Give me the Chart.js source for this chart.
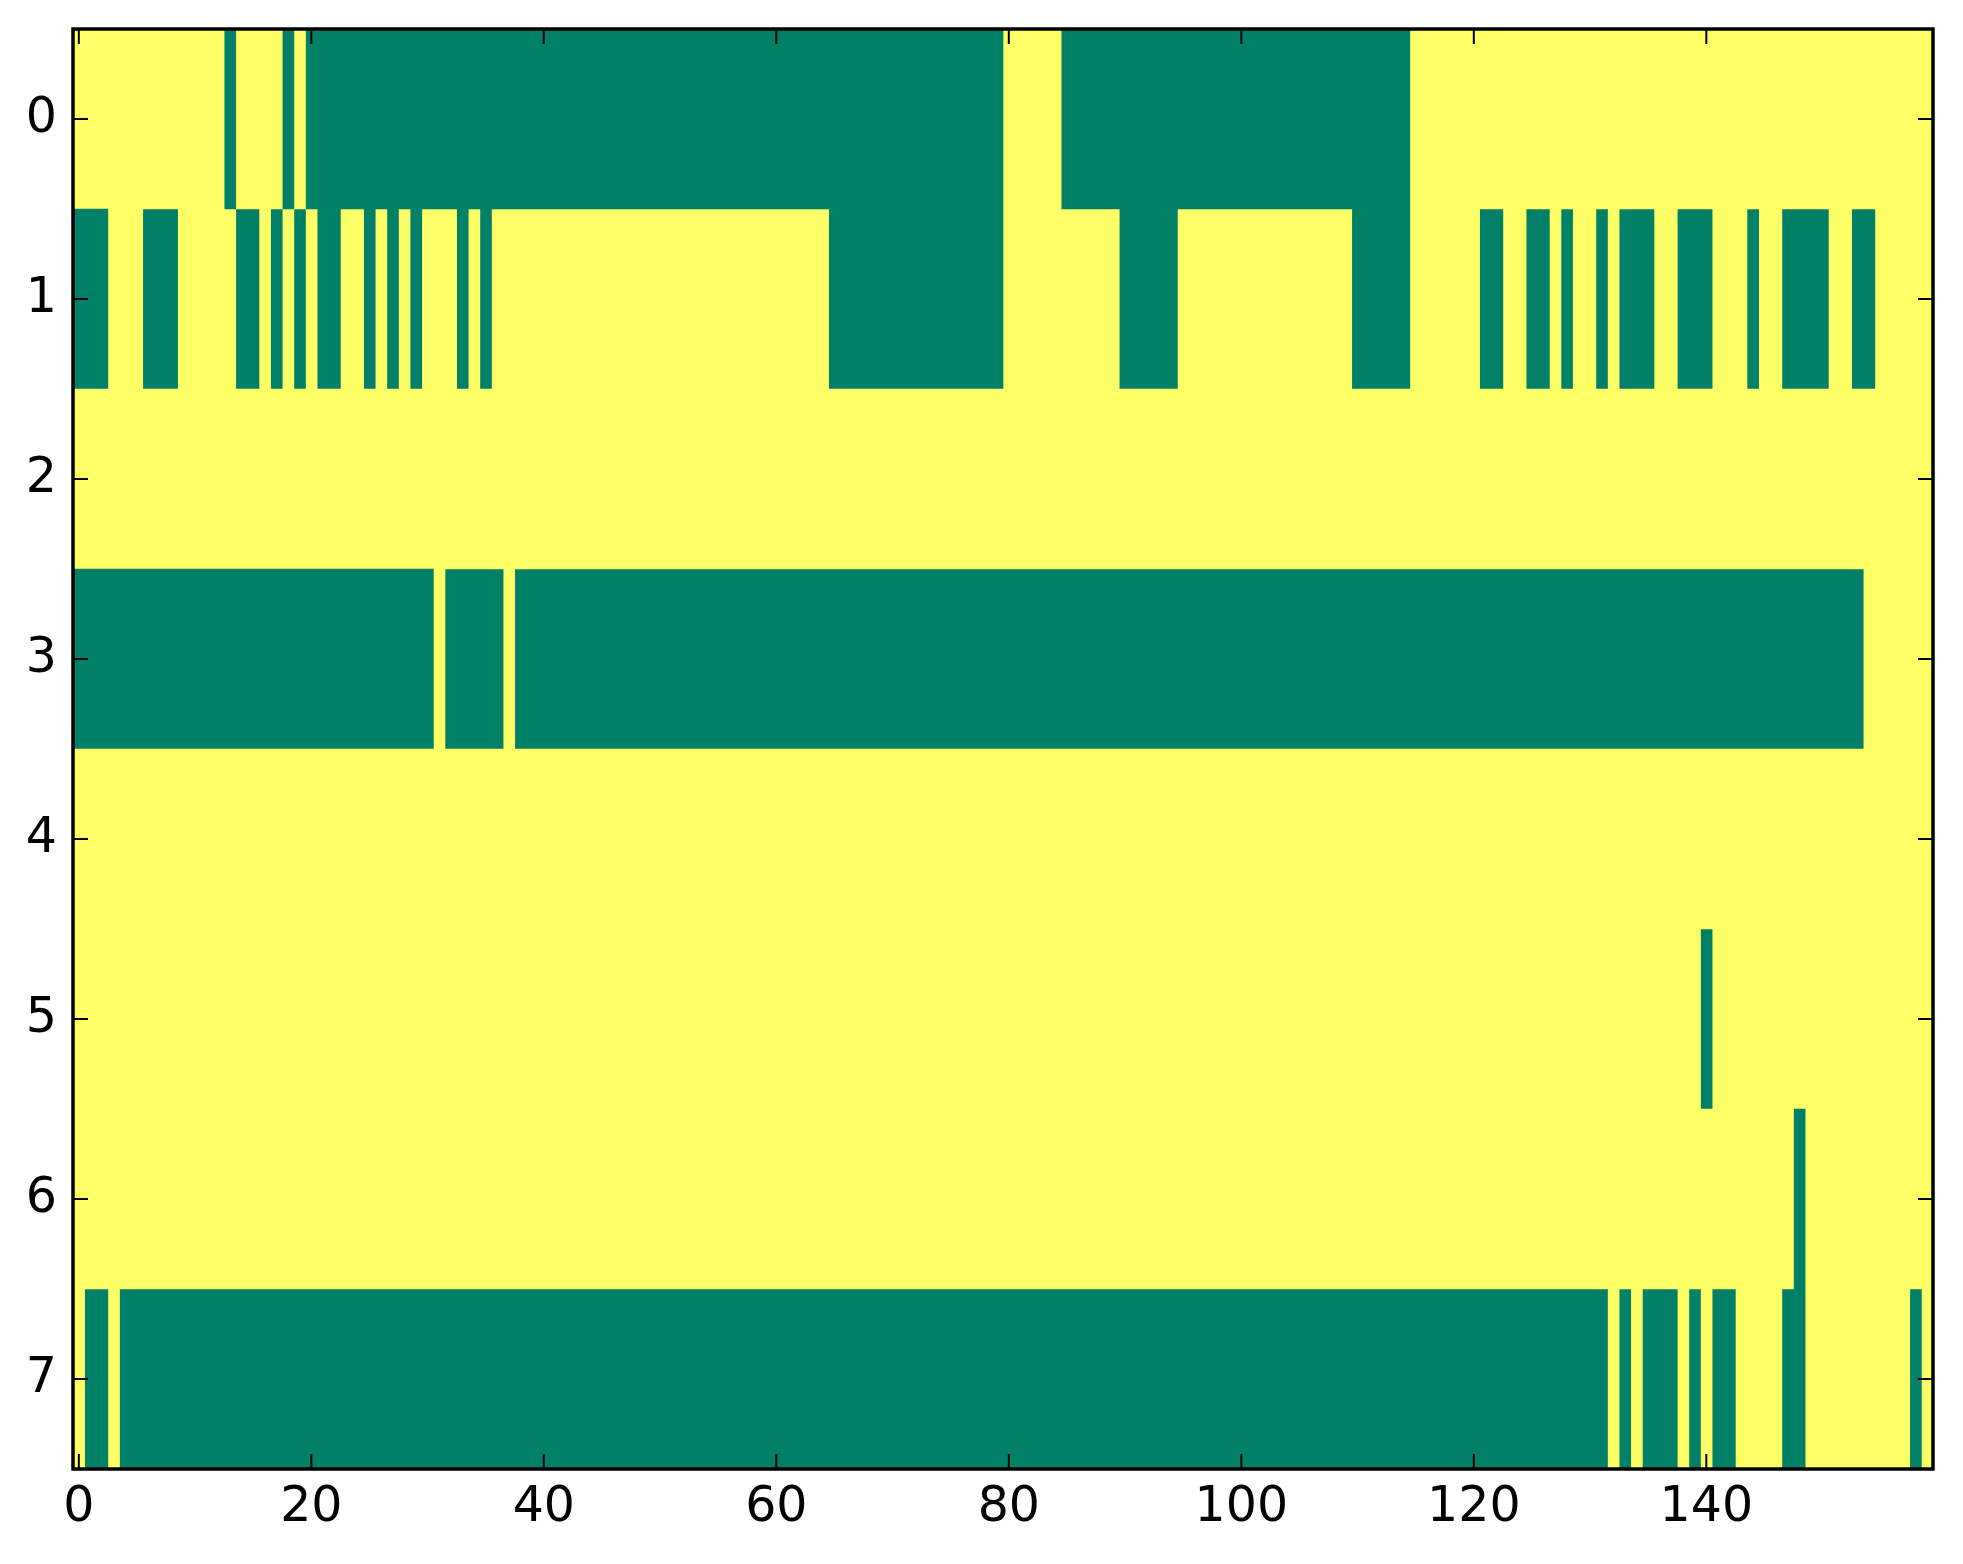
<!DOCTYPE html>
<html>
<head>
<meta charset="utf-8">
<script src="https://cdn.jsdelivr.net/npm/chart.js@4.4.1/dist/chart.umd.min.js"></script>
<style>
  html, body { margin: 0; padding: 0; background: #fff; }
  #wrap { width: 1963px; height: 1564px; position: relative; }
</style>
</head>
<body>
<div id="wrap"><canvas id="grid"></canvas></div>
<script>
// linhas e colunas da matriz (0 = verde, 1 = amarelo)
const rowLabels = ['0', '1', '2', '3', '4', '5', '6', '7'];
const nCols = 160;
const xTicks = [0, 20, 40, 60, 80, 100, 120, 140];

// colunas com valor 0 em cada linha, como intervalos [inicio, fim]
const row0 = [[13, 13], [18, 18], [20, 79], [85, 114]];
const row1 = [[0, 2], [6, 8], [14, 15], [17, 17], [19, 19], [21, 22], [25, 25], [27, 27],
  [29, 29], [33, 33], [35, 35], [65, 79], [90, 94], [110, 114], [121, 122], [125, 126],
  [128, 128], [131, 131], [133, 135], [138, 140], [144, 144], [147, 150], [153, 154]];
const row2 = [];
const row3 = [[0, 30], [32, 36], [38, 153]];
const row4 = [];
const row5 = [[140, 140]];
const row6 = [[148, 148]];
const row7 = [[1, 2], [4, 131], [133, 133], [135, 137], [139, 139], [141, 142], [147, 148], [158, 158]];

const zeroRuns = [row0, row1, row2, row3, row4, row5, row6, row7];

const GREEN = '#008066';
const YELLOW = '#ffff66';

// monta a matriz completa e depois as faixas de mesma cor
function buildMatrix() {
  return zeroRuns.map(runs => {
    const cells = new Array(nCols).fill(1);
    runs.forEach(([a, b]) => { for (let c = a; c <= b; c++) cells[c] = 0; });
    return cells;
  });
}

function toRuns(cells) {
  const out = [];
  let start = 0;
  for (let c = 1; c <= cells.length; c++) {
    if (c === cells.length || cells[c] !== cells[start]) {
      out.push({ from: start - 0.5, to: c - 0.5, v: cells[start] });
      start = c;
    }
  }
  return out;
}

const matrix = buildMatrix();
const rowRuns = matrix.map(toRuns);
const maxRuns = Math.max(...rowRuns.map(r => r.length));

const datasets = [];
for (let i = 0; i < maxRuns; i++) {
  datasets.push({
    data: rowRuns.map(r => r[i] ? [r[i].from, r[i].to] : null),
    backgroundColor: rowRuns.map(r => r[i] ? (r[i].v === 0 ? GREEN : YELLOW) : 'transparent'),
    borderWidth: 0,
    grouped: false,
    barPercentage: 1,
    categoryPercentage: 1
  });
}

// ticks para dentro nos quatro lados + moldura
const frame = {
  id: 'frame',
  afterDatasetsDraw(chart) {
    const { ctx, chartArea: a, scales } = chart;
    const tl = 15;
    ctx.save();
    ctx.strokeStyle = '#000';
    ctx.lineWidth = 2;
    ctx.beginPath();
    xTicks.forEach(v => {
      const px = scales.x.getPixelForValue(v);
      ctx.moveTo(px, a.bottom); ctx.lineTo(px, a.bottom - tl);
      ctx.moveTo(px, a.top); ctx.lineTo(px, a.top + tl);
    });
    rowLabels.forEach((l, i) => {
      const py = scales.y.getPixelForValue(i);
      ctx.moveTo(a.left, py); ctx.lineTo(a.left + tl, py);
      ctx.moveTo(a.right, py); ctx.lineTo(a.right - tl, py);
    });
    ctx.stroke();
    ctx.lineWidth = 3.5;
    ctx.strokeRect(a.left, a.top, a.right - a.left, a.bottom - a.top);
    ctx.restore();
  }
};

const tickFont = { family: 'DejaVu Sans', size: 49 };

new Chart(document.getElementById('grid'), {
  type: 'bar',
  data: { labels: rowLabels, datasets: datasets },
  options: {
    indexAxis: 'y',
    responsive: true,
    maintainAspectRatio: false,
    animation: false,
    layout: { padding: { top: 29, right: 30, left: 0, bottom: 0 } },
    plugins: { legend: { display: false }, tooltip: { enabled: false } },
    scales: {
      x: {
        type: 'linear',
        position: 'bottom',
        min: -0.5,
        max: nCols - 0.5,
        afterBuildTicks: axis => { axis.ticks = xTicks.map(v => ({ value: v })); },
        afterFit: axis => { axis.height = 95; axis.paddingLeft = 0; axis.paddingRight = 0; },
        grid: { drawOnChartArea: false, drawTicks: false },
        border: { display: false },
        ticks: { color: '#000', font: tickFont, padding: 10, maxRotation: 0, autoSkip: false }
      },
      y: {
        type: 'category',
        afterFit: axis => { axis.width = 73; axis.paddingTop = 0; axis.paddingBottom = 0; },
        grid: { drawOnChartArea: false, drawTicks: false },
        border: { display: false },
        ticks: { color: '#000', font: tickFont, padding: 16 }
      }
    }
  },
  plugins: [frame]
});
</script>
</body>
</html>
